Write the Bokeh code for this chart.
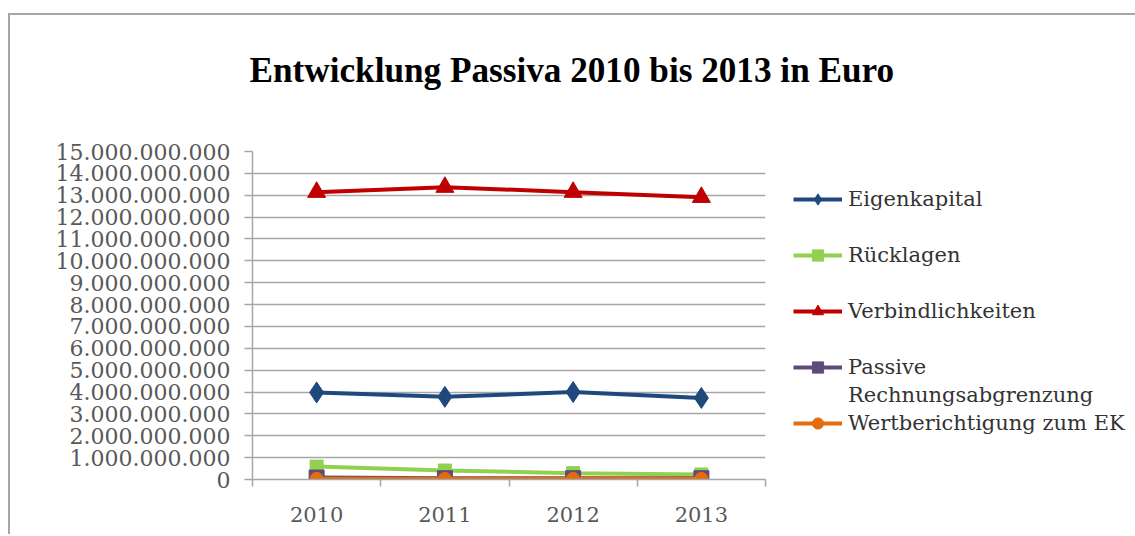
from bokeh.plotting import figure
from bokeh.models import FixedTicker, Legend, LegendItem, ColumnDataSource
from bokeh.embed import file_html
from bokeh.resources import INLINE

# ---- data -------------------------------------------------------------
years = ["2010", "2011", "2012", "2013"]
eigenkapital = [3.98e9, 3.78e9, 4.00e9, 3.73e9]
ruecklagen = [0.59e9, 0.41e9, 0.29e9, 0.23e9]
verbindlichkeiten = [13.14e9, 13.37e9, 13.14e9, 12.91e9]
passive_ra = [0.09e9, 0.06e9, 0.06e9, 0.06e9]
wertberichtigung = [0.03e9, 0.03e9, 0.03e9, 0.03e9]

y_ticks = [0, 1e9, 2e9, 3e9, 4e9, 5e9, 6e9, 7e9, 8e9, 9e9, 10e9, 11e9, 12e9, 13e9, 14e9, 15e9]
y_tick_labels = ["0", "1.000.000.000", "2.000.000.000", "3.000.000.000", "4.000.000.000",
                 "5.000.000.000", "6.000.000.000", "7.000.000.000", "8.000.000.000",
                 "9.000.000.000", "10.000.000.000", "11.000.000.000", "12.000.000.000",
                 "13.000.000.000", "14.000.000.000", "15.000.000.000"]

title_text = "Entwicklung Passiva 2010 bis 2013 in Euro"

# category positions (centre of each category slot)
xpos = [i + 0.5 for i in range(len(years))]
src = ColumnDataSource(dict(x=xpos, ek=eigenkapital, rl=ruecklagen, vb=verbindlichkeiten,
                            pra=passive_ra, wb=wertberichtigung))

p = figure(frame_width=513, frame_height=328, x_range=(0, len(years)), y_range=(0, 15e9),
           output_backend="svg", toolbar_location=None,
           min_border_left=242, min_border_top=136, min_border_bottom=55, min_border_right=0,
           title=title_text + "\n ")
p.margin = (13, 0, 0, 8)
p.styles = {"border-top": "2px solid #A6A6A6", "border-left": "2px solid #A6A6A6"}
p.outline_line_color = None
p.background_fill_color = "white"
p.border_fill_color = "white"

p.title.align = "left"
p.title.offset = -3
p.title.text_font = "Liberation Serif"
p.title.text_font_size = "35.2px"
p.title.text_font_style = "bold"
p.title.text_color = "#000000"
p.title.standoff = 46

# grid
p.xgrid.grid_line_color = None
p.ygrid.grid_line_color = "#A6A6A6"
p.ygrid.grid_line_width = 1.5

# y axis
p.yaxis.ticker = FixedTicker(ticks=y_ticks, minor_ticks=[])
p.yaxis.major_label_overrides = {float(t): l for t, l in zip(y_ticks, y_tick_labels)}
p.yaxis.major_label_text_font = "DejaVu Serif"
p.yaxis.major_label_text_font_size = "22px"
p.yaxis.major_label_text_color = "#595959"
p.yaxis.major_tick_out = 8
p.yaxis.major_tick_in = 0
p.yaxis.major_tick_line_color = "#A6A6A6"
p.yaxis.axis_line_color = "#A6A6A6"
p.yaxis.axis_line_width = 1.5
p.yaxis.major_tick_line_width = 1.5
p.yaxis.major_label_standoff = 14

# x axis
p.xaxis.ticker = FixedTicker(ticks=xpos, minor_ticks=[0, 1, 2, 3, 4])
p.xaxis.major_label_overrides = {float(x): y for x, y in zip(xpos, years)}
p.xaxis.major_label_text_font = "DejaVu Serif"
p.xaxis.major_label_text_font_size = "21px"
p.xaxis.major_label_text_color = "#595959"
p.xaxis.major_tick_out = 0
p.xaxis.major_tick_in = 0
p.xaxis.minor_tick_out = 7
p.xaxis.minor_tick_in = 0
p.xaxis.minor_tick_line_color = "#A6A6A6"
p.xaxis.minor_tick_line_width = 1.5
p.xaxis.axis_line_color = "#A6A6A6"
p.xaxis.axis_line_width = 1.5
p.xaxis.major_label_standoff = 20

series = [
    ("Eigenkapital", "ek", "#1F497D", "diamond", 21),
    ("Rücklagen", "rl", "#92D050", "square", 13),
    ("Verbindlichkeiten", "vb", "#C00000", "triangle", 18),
    ("Passive", "pra", "#604A7B", "square", 15),
    ("Wertberichtigung zum EK", "wb", "#E46C0A", "circle", 13),
]

renders = {}
for name, col, color, marker, size in series:
    lr = p.line("x", col, source=src, line_color=color, line_width=4)
    sr = p.scatter("x", col, source=src, marker=marker, size=size,
                   fill_color=color, line_color=color)
    renders[name] = [lr, sr]

spacer = p.line("x", "ek", source=src, line_alpha=0)

items = [
    LegendItem(label="Eigenkapital", renderers=renders["Eigenkapital"]),
    LegendItem(label=" ", renderers=[spacer]),
    LegendItem(label="Rücklagen", renderers=renders["Rücklagen"]),
    LegendItem(label=" ", renderers=[spacer]),
    LegendItem(label="Verbindlichkeiten", renderers=renders["Verbindlichkeiten"]),
    LegendItem(label=" ", renderers=[spacer]),
    LegendItem(label="Passive", renderers=renders["Passive"]),
    LegendItem(label="Rechnungsabgrenzung", renderers=[spacer]),
    LegendItem(label="Wertberichtigung zum EK", renderers=renders["Wertberichtigung zum EK"]),
]
legend = Legend(items=items, location=(28, 42), margin=0, padding=0, spacing=0,
                label_height=28, glyph_height=28, glyph_width=49, label_standoff=6,
                border_line_alpha=0, background_fill_alpha=0,
                label_text_font="DejaVu Serif", label_text_font_size="21px",
                label_text_color="#333333")
p.add_layout(legend, "right")

open("out.html", "w").write(file_html(p, INLINE))
